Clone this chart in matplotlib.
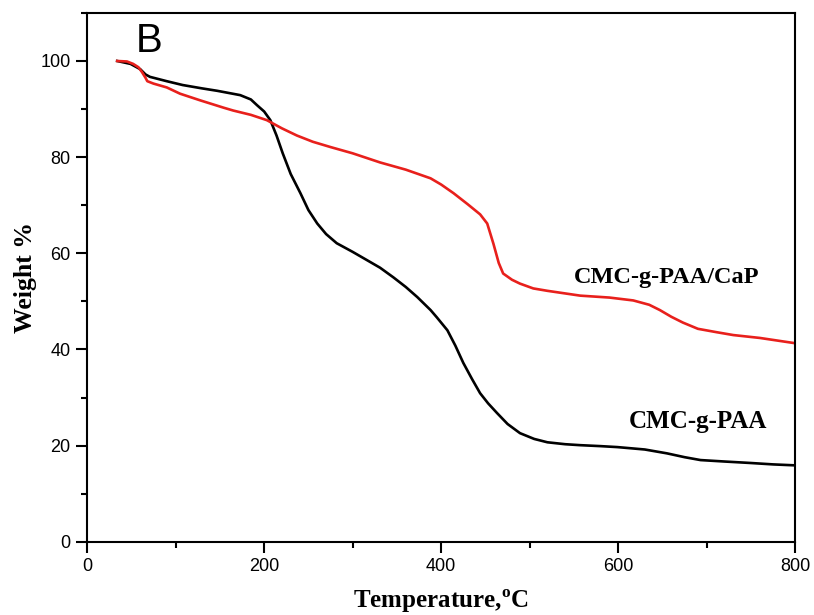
import matplotlib
matplotlib.use("Agg")
import matplotlib.pyplot as plt
from matplotlib.ticker import MultipleLocator

plt.rcParams["mathtext.fontset"] = "custom"
plt.rcParams["mathtext.rm"] = "Liberation Serif"
plt.rcParams["mathtext.bf"] = "Liberation Serif:bold"

# CMC-g-PAA (black)
temp_paa = [34, 49, 60, 66, 71, 90, 108, 130, 147, 173, 185, 192, 200, 207, 214,
            221, 230, 241, 250, 260, 270, 282, 300, 316, 331, 346, 360, 373, 388,
            395, 407, 416, 425, 435, 444, 453, 463, 475, 489, 505, 520, 540, 557,
            580, 599, 630, 655, 675, 693, 720, 749, 775, 800]
weight_paa = [100, 99.4, 98.3, 97.2, 96.7, 95.8, 95.0, 94.3, 93.8, 92.9, 92.0, 90.8,
              89.5, 87.7, 84.5, 80.8, 76.5, 72.5, 69.0, 66.2, 64.0, 62.1, 60.3, 58.6,
              57.0, 55.0, 53.0, 50.9, 48.2, 46.7, 44.0, 40.8, 37.2, 33.8, 30.9, 28.8,
              26.8, 24.5, 22.6, 21.4, 20.7, 20.3, 20.1, 19.9, 19.7, 19.2, 18.4, 17.6,
              17.0, 16.7, 16.4, 16.1, 15.9]

# CMC-g-PAA/CaP (red)
temp_cap = [34, 45, 52, 58, 62, 66, 68, 75, 90, 105, 128, 154, 165, 185, 203, 220,
            237, 255, 275, 300, 331, 360, 388, 400, 414, 430, 444, 452, 459, 465,
            470, 480, 489, 504, 520, 557, 590, 617, 635, 647, 660, 673, 690, 711,
            730, 760, 800]
weight_cap = [100, 99.9, 99.4, 98.7, 97.7, 96.5, 95.8, 95.3, 94.5, 93.2, 91.8, 90.3,
              89.7, 88.8, 87.7, 86.0, 84.5, 83.2, 82.1, 80.8, 78.9, 77.4, 75.6, 74.3,
              72.5, 70.2, 68.1, 66.2, 62.0, 58.0, 55.8, 54.5, 53.7, 52.7, 52.2, 51.2,
              50.8, 50.2, 49.3, 48.2, 46.8, 45.6, 44.3, 43.6, 43.0, 42.4, 41.3]

fig = plt.figure(figsize=(8.14, 6.15), dpi=100)
ax = fig.add_axes([0.107, 0.119, 0.870, 0.860])

ax.plot(temp_paa, weight_paa, color="black", lw=1.9)
ax.plot(temp_cap, weight_cap, color="#e8201c", lw=1.9)

ax.set_xlim(0, 800)
ax.set_ylim(0, 110)
ax.xaxis.set_major_locator(MultipleLocator(200))
ax.xaxis.set_minor_locator(MultipleLocator(100))
ax.yaxis.set_major_locator(MultipleLocator(20))
ax.yaxis.set_minor_locator(MultipleLocator(10))

for s in ax.spines.values():
    s.set_linewidth(1.5)
ax.tick_params(which="major", direction="out", length=8, width=1.5,
               labelsize=13, pad=4)
ax.tick_params(which="minor", direction="out", length=4, width=1.5)
for lab in ax.get_xticklabels() + ax.get_yticklabels():
    lab.set_family("Liberation Sans")

serif = dict(family="Liberation Serif", fontweight="bold")
ax.set_xlabel(r"Temperature,$^{\mathbf{o}}$C", fontsize=18, labelpad=9, **serif)
ax.set_ylabel("Weight %", fontsize=18.5, labelpad=2, **serif)

ax.text(655, 55, "CMC-g-PAA/CaP", ha="center", va="center", fontsize=17.5, **serif)
ax.text(690, 25, "CMC-g-PAA", ha="center", va="center", fontsize=18, **serif)
ax.text(0.068, 0.926, "B", transform=ax.transAxes, ha="left", va="baseline",
        fontsize=29, family="Liberation Sans")

fig.savefig("out.png", dpi=100)
